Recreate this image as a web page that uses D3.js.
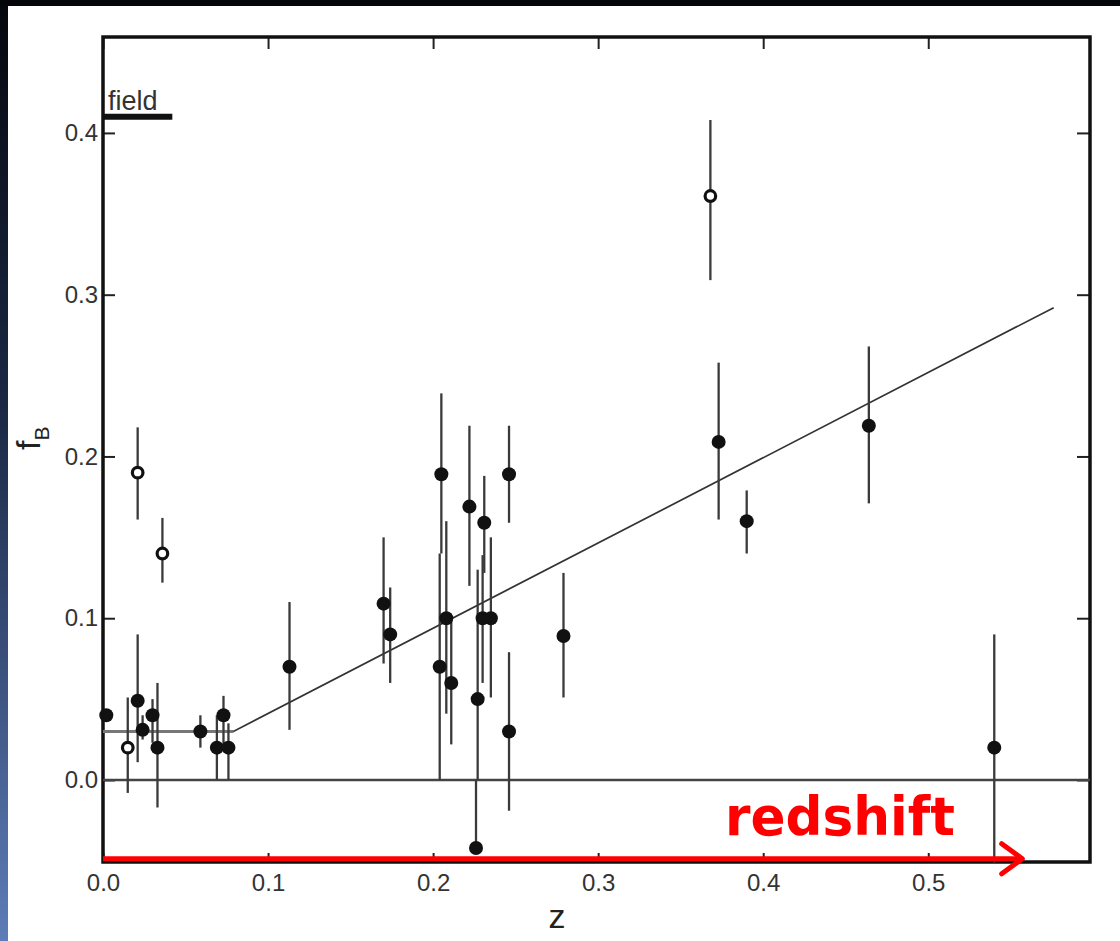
<!DOCTYPE html>
<html>
<head>
<meta charset="utf-8">
<script src="https://cdn.jsdelivr.net/npm/d3@7"></script>
<style>
  html, body { margin: 0; padding: 0; background: #fff; }
  svg { display: block; }
  .tick text { font-family: "Liberation Sans", Arial, sans-serif; font-size: 24px; fill: #333; }
</style>
</head>
<body>
<svg width="1120" height="941"></svg>
<script>
// filled points: redshift, f_B, error bar low / high
const filledZ  = [0.002, 0.021, 0.024, 0.030, 0.033, 0.059, 0.069, 0.073, 0.076, 0.113, 0.170, 0.174,
                  0.205, 0.208, 0.204, 0.211, 0.222, 0.231, 0.230, 0.235, 0.227, 0.226, 0.246, 0.246,
                  0.279, 0.373, 0.390, 0.464, 0.540];
const filledF  = [0.040, 0.049, 0.031, 0.040, 0.020, 0.030, 0.020, 0.040, 0.020, 0.070, 0.109, 0.090,
                  0.189, 0.100, 0.070, 0.060, 0.169, 0.159, 0.100, 0.100, 0.050, -0.042, 0.189, 0.030,
                  0.089, 0.209, 0.160, 0.219, 0.020];
const filledLo = [0.040, 0.011, 0.025, 0.023, -0.017, 0.020, 0.000, 0.020, 0.000, 0.031, 0.072, 0.060,
                  0.140, 0.041, 0.000, 0.022, 0.120, 0.128, 0.060, 0.051, 0.000, -0.042, 0.159, -0.019,
                  0.051, 0.161, 0.140, 0.171, -0.051];
const filledHi = [0.040, 0.090, 0.040, 0.050, 0.060, 0.040, 0.040, 0.052, 0.035, 0.110, 0.150, 0.119,
                  0.239, 0.160, 0.140, 0.100, 0.219, 0.188, 0.139, 0.150, 0.130, 0.000, 0.219, 0.079,
                  0.128, 0.258, 0.179, 0.268, 0.090];

// open points
const openZ  = [0.015, 0.021, 0.036, 0.368];
const openF  = [0.020, 0.190, 0.140, 0.361];
const openLo = [-0.008, 0.161, 0.122, 0.309];
const openHi = [0.051, 0.218, 0.162, 0.408];

// fitted relation: flat part then rising line
const fitZ = [0.0, 0.079, 0.576];
const fitF = [0.030, 0.030, 0.292];

// field value
const fieldZ = [0.0, 0.042];
const fieldF = 0.41;

const xTicks = [0.0, 0.1, 0.2, 0.3, 0.4, 0.5];
const yTicks = [0.0, 0.1, 0.2, 0.3, 0.4];

const svg = d3.select("svg");

// slide background bits
const defs = svg.append("defs");
const grad = defs.append("linearGradient").attr("id", "side").attr("x1", 0).attr("y1", 0).attr("x2", 0).attr("y2", 1);
grad.append("stop").attr("offset", "0%").attr("stop-color", "#05070c");
grad.append("stop").attr("offset", "45%").attr("stop-color", "#1c2a48");
grad.append("stop").attr("offset", "100%").attr("stop-color", "#5d7db8");
svg.append("rect").attr("x", 0).attr("y", 0).attr("width", 8).attr("height", 941).attr("fill", "url(#side)");
svg.append("rect").attr("x", 0).attr("y", 0).attr("width", 1120).attr("height", 6).attr("fill", "#05060a");

const plotL = 103, plotR = 1090, plotT = 37, plotB = 862;

const x = d3.scaleLinear().domain([0, 0.598]).range([plotL, plotR]);
const y = d3.scaleLinear().domain([-0.0507, 0.4593]).range([plotB, plotT]);

const fmt = d3.format(".1f");

// axes with inward ticks
svg.append("g").attr("transform", `translate(${plotL},0)`)
  .call(d3.axisLeft(y).tickValues(yTicks).tickFormat(fmt).tickSizeInner(-12).tickSizeOuter(0).tickPadding(5))
  .call(g => g.select(".domain").remove());
svg.append("g").attr("transform", `translate(${plotR},0)`)
  .call(d3.axisRight(y).tickValues(yTicks).tickFormat("").tickSizeInner(-13).tickSizeOuter(0))
  .call(g => g.select(".domain").remove());
svg.append("g").attr("transform", `translate(0,${plotB})`)
  .call(d3.axisBottom(x).tickValues(xTicks).tickFormat(fmt).tickSizeInner(-9).tickSizeOuter(0).tickPadding(12))
  .call(g => g.select(".domain").remove());
svg.append("g").attr("transform", `translate(0,${plotT})`)
  .call(d3.axisTop(x).tickValues(xTicks).tickFormat("").tickSizeInner(-12).tickSizeOuter(0))
  .call(g => g.select(".domain").remove());

svg.selectAll(".tick line").attr("stroke", "#222").attr("stroke-width", 2);
svg.selectAll(".tick text").attr("font-size", 25);

// frame
svg.append("rect")
  .attr("x", plotL).attr("y", plotT)
  .attr("width", plotR - plotL).attr("height", plotB - plotT)
  .attr("fill", "none").attr("stroke", "#111").attr("stroke-width", 3.5);

// zero line
svg.append("line")
  .attr("x1", x(0)).attr("x2", x(0.598))
  .attr("y1", y(0)).attr("y2", y(0))
  .attr("stroke", "#444").attr("stroke-width", 2.4);

// fit
const fitLine = d3.line().x((d, i) => x(fitZ[i])).y((d, i) => y(fitF[i]));
svg.append("path")
  .attr("d", fitLine(fitZ))
  .attr("fill", "none").attr("stroke", "#333").attr("stroke-width", 1.7);
svg.append("line")
  .attr("x1", x(fitZ[0])).attr("x2", x(fitZ[1]))
  .attr("y1", y(fitF[0])).attr("y2", y(fitF[1]))
  .attr("stroke", "#777").attr("stroke-width", 3);

// field marker
svg.append("line")
  .attr("x1", x(fieldZ[0])).attr("x2", x(fieldZ[1]))
  .attr("y1", y(fieldF)).attr("y2", y(fieldF))
  .attr("stroke", "#111").attr("stroke-width", 6);
svg.append("text")
  .attr("x", x(0) + 5).attr("y", y(fieldF) - 7)
  .attr("font-family", "Liberation Sans, Arial, sans-serif")
  .attr("font-size", 27).attr("fill", "#333")
  .text("field");

const filled = filledZ.map((z, i) => ({ z, f: filledF[i], lo: filledLo[i], hi: filledHi[i] }));
const open = openZ.map((z, i) => ({ z, f: openF[i], lo: openLo[i], hi: openHi[i] }));

// error bars
svg.append("g").selectAll("line")
  .data(filled.concat(open))
  .join("line")
  .attr("x1", d => x(d.z)).attr("x2", d => x(d.z))
  .attr("y1", d => y(d.lo)).attr("y2", d => y(d.hi))
  .attr("stroke", "#3a3a3a").attr("stroke-width", 2.3);

// markers
svg.append("g").selectAll("circle")
  .data(filled)
  .join("circle")
  .attr("cx", d => x(d.z)).attr("cy", d => y(d.f))
  .attr("r", 7).attr("fill", "#111");

svg.append("g").selectAll("circle")
  .data(open)
  .join("circle")
  .attr("cx", d => x(d.z)).attr("cy", d => y(d.f))
  .attr("r", 5.3).attr("fill", "#fff")
  .attr("stroke", "#111").attr("stroke-width", 3.2);

// axis titles
const yt = svg.append("text")
  .attr("transform", "translate(40,450) rotate(-90)")
  .attr("font-family", "Liberation Sans, Arial, sans-serif")
  .attr("fill", "#222");
yt.append("tspan").attr("font-size", 34).text("f");
yt.append("tspan").attr("font-size", 21).attr("dy", 9).text("B");

svg.append("text")
  .attr("x", 557).attr("y", 928)
  .attr("text-anchor", "middle")
  .attr("font-family", "Liberation Sans, Arial, sans-serif")
  .attr("font-size", 34).attr("fill", "#222")
  .text("z");

// red redshift annotation
const red = "#ff0000";
const ay = y(-0.0487);
svg.append("line")
  .attr("x1", x(0)).attr("x2", x(0.5565))
  .attr("y1", ay).attr("y2", ay)
  .attr("stroke", red).attr("stroke-width", 5);
svg.append("path")
  .attr("d", `M${x(0.5445)},${ay - 15} L${x(0.5570)},${ay} L${x(0.5445)},${ay + 15}`)
  .attr("fill", "none").attr("stroke", red).attr("stroke-width", 5)
  .attr("stroke-linecap", "round").attr("stroke-linejoin", "round");
svg.append("text")
  .attr("x", 725).attr("y", 835)
  .attr("font-family", "DejaVu Sans, sans-serif")
  .attr("font-weight", "bold")
  .attr("font-size", 54)
  .attr("textLength", 230).attr("lengthAdjust", "spacingAndGlyphs")
  .attr("fill", red)
  .text("redshift");
</script>
</body>
</html>
